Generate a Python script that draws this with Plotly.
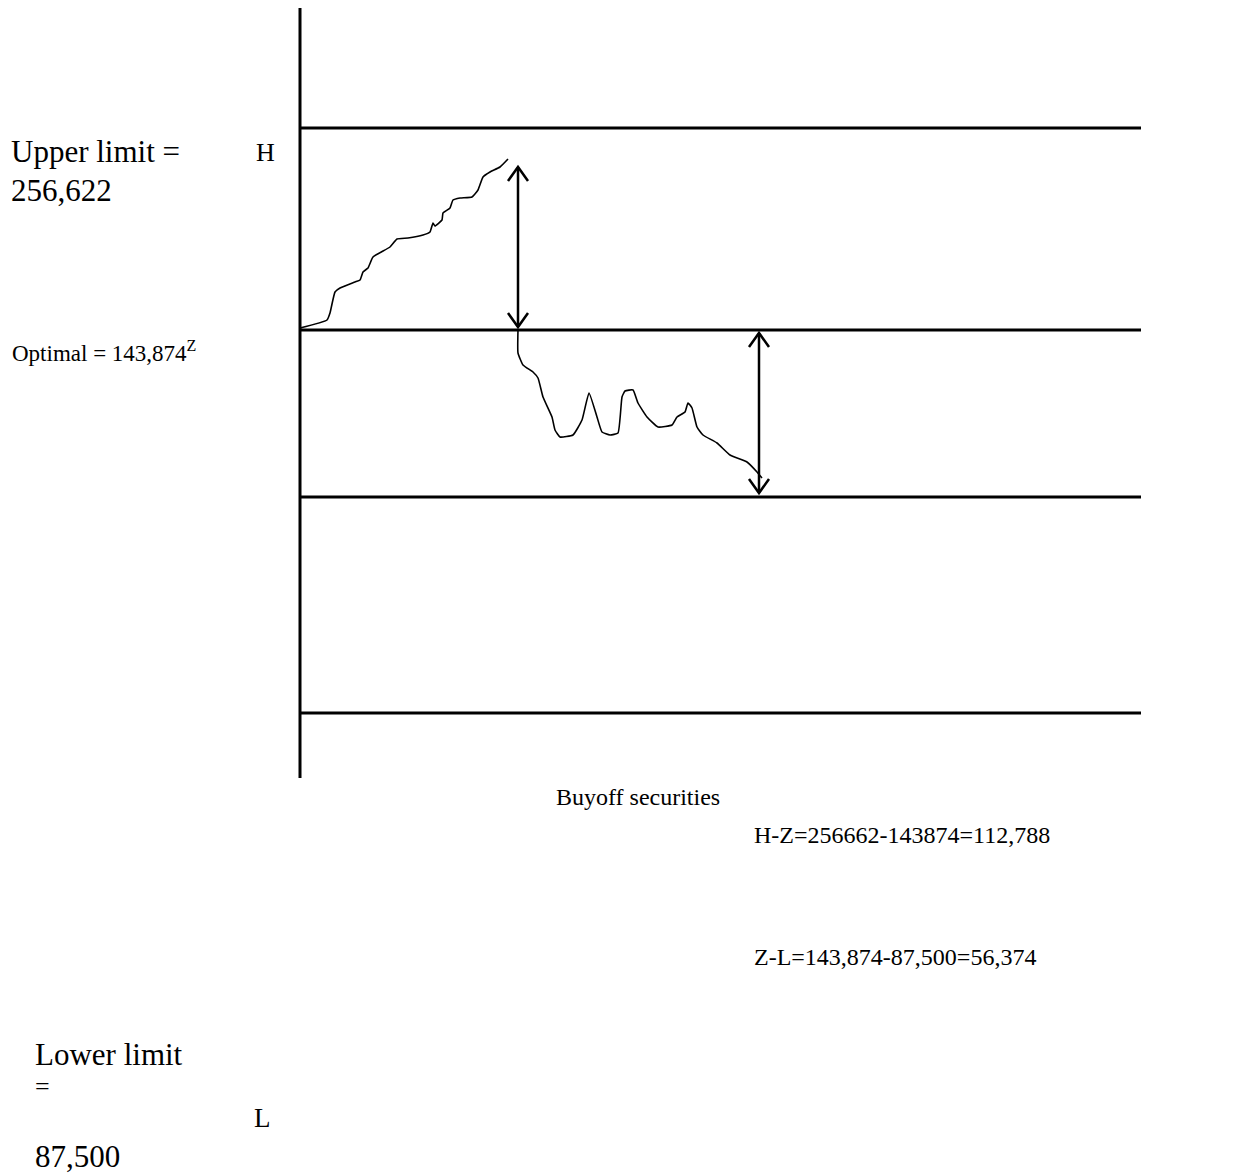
import plotly.graph_objects as go

# ---- data (diagram units: x = time, y = cash level, drawn top-down) ----
levels = [128, 330, 497, 713]          # H, Z, L-band, floor lines
line_x = [300, 1141]
axis_x = 300
axis_y = [8, 778]

rise_x = [300, 327, 330, 335, 340, 355, 360, 363, 368, 373, 390, 397, 408, 423, 430, 433,
          435, 442, 443, 450, 453, 460, 472, 478, 483, 490, 500, 508]
rise_y = [328, 320, 313, 292, 288, 282, 280, 272, 268, 257, 247, 239, 238, 235, 232, 223,
          226, 220, 213, 208, 200, 198, 197, 190, 177, 172, 167, 159]

fall_x = [518, 518, 523, 533, 538, 543, 552, 555, 560, 573, 582, 589, 597, 602, 610, 618,
          622, 625, 633, 638, 647, 658, 672, 677, 685, 688, 692, 697, 703, 717, 730, 747,
          757, 762]
fall_y = [330, 353, 365, 372, 378, 397, 417, 430, 437, 435, 420, 393, 417, 432, 435, 433,
          397, 391, 390, 403, 417, 427, 425, 417, 412, 403, 408, 427, 435, 443, 455, 462,
          472, 478]

arrows = [  # (x, y_top, y_bottom)
    (518, 167, 327),
    (759, 333, 493),
]

texts = [
    ("Upper limit =", 10, 151, 31),
    ("256,622", 10, 190, 31),
    ("H", 255, 152, 26),
    ("Lower limit", 34, 1054, 31),
    ("=", 34, 1086, 26),
    ("L", 253, 1118, 27),
    ("87,500", 34, 1156, 31),
    ("Buyoff securities", 555, 797, 24),
    ("H-Z=256662-143874=112,788", 753, 835, 24),
    ("Z-L=143,874-87,500=56,374", 753, 957, 24),
]

FONT = "Liberation Serif, Times New Roman, serif"

# page body has an 8px margin; shrink the figure and shift ranges so data == page pixels
PAD = 8
W, H = 1234, 1174

fig = go.Figure()

fig.add_trace(go.Scatter(x=[axis_x, axis_x], y=axis_y, mode="lines",
                         line=dict(color="black", width=3), hoverinfo="skip"))
for lv in levels:
    fig.add_trace(go.Scatter(x=line_x, y=[lv, lv], mode="lines",
                             line=dict(color="black", width=3), hoverinfo="skip"))
fig.add_trace(go.Scatter(x=rise_x, y=rise_y, mode="lines",
                         line=dict(color="black", width=1.6, shape="spline", smoothing=0.4),
                         hoverinfo="skip"))
fig.add_trace(go.Scatter(x=fall_x, y=fall_y, mode="lines",
                         line=dict(color="black", width=1.6, shape="spline", smoothing=0.4),
                         hoverinfo="skip"))

hw, hh = 10, 14
for ax, yt, yb in arrows:
    fig.add_trace(go.Scatter(x=[ax, ax], y=[yt, yb], mode="lines",
                             line=dict(color="black", width=2.5), hoverinfo="skip"))
    fig.add_trace(go.Scatter(x=[ax - hw, ax, ax + hw], y=[yt + hh, yt, yt + hh], mode="lines",
                             line=dict(color="black", width=2.5), hoverinfo="skip"))
    fig.add_trace(go.Scatter(x=[ax - hw, ax, ax + hw], y=[yb - hh, yb, yb - hh], mode="lines",
                             line=dict(color="black", width=2.5), hoverinfo="skip"))

for t, x, y, s in texts:
    fig.add_annotation(x=x, y=y, text=t, showarrow=False, xanchor="left", yanchor="middle",
                       font=dict(family=FONT, size=s, color="black"), borderpad=0)

fig.add_annotation(x=10, y=351, text="Optimal = 143,874<sup>Z</sup>", showarrow=False,
                   xanchor="left", yanchor="middle",
                   font=dict(family=FONT, size=23, color="black"))

fig.update_layout(
    width=W - PAD, height=H - PAD,
    margin=dict(l=0, r=0, t=0, b=0),
    paper_bgcolor="white", plot_bgcolor="white",
    showlegend=False,
    xaxis=dict(range=[PAD, W], visible=False, fixedrange=True),
    yaxis=dict(range=[H, PAD], visible=False, fixedrange=True),
)

fig.write_html("out.html")
